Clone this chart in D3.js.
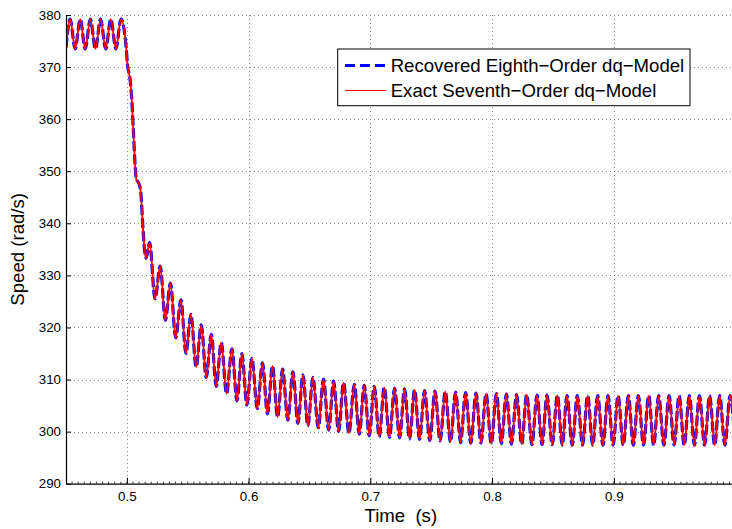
<!DOCTYPE html>
<html><head><meta charset="utf-8">
<script src="https://cdn.jsdelivr.net/npm/d3@7"></script>
<style>
body{margin:0;background:#fff}
svg{display:block}
text{font-family:"Liberation Sans",Arial,Helvetica,sans-serif;fill:#000}
</style>
</head><body>
<svg id="chart" width="732" height="529"></svg>
<script>
// ---- data (extrema of the speed waveform) ----
const timeS = [
0.4500,0.4534,0.4575,0.4617,0.4658,0.4700,0.4742,0.4784,0.4826,0.4868,0.4910,0.4952,0.4994,
0.5005,0.5027,0.5041,0.5054,0.5068,0.5078,0.5090,0.5104,0.5115,0.5131,0.5145,0.5158,
0.5187,0.5231,0.5274,0.5316,0.5358,0.5401,0.5444,0.5485,0.5526,0.5569,0.5611,0.5652,0.5693,0.5734,
0.5775,0.5819,0.5863,0.5904,0.5945,0.5986,0.6027,0.6071,0.6114,0.6155,0.6196,0.6238,0.6279,0.6322,
0.6364,0.6405,0.6446,0.6487,0.6528,0.6572,0.6615,0.6657,0.6698,0.6739,0.6780,0.6824,0.6868,0.6909,
0.6950,0.6991,0.7032,0.7073,0.7114,0.7157,0.7199,0.7240,0.7281,0.7322,0.7363,0.7404,0.7445,0.7488,
0.7531,0.7573,0.7615,0.7658,0.7700,0.7741,0.7782,0.7825,0.7868,0.7909,0.7950,0.7993,0.8035,0.8076,
0.8117,0.8159,0.8201,0.8243,0.8284,0.8327,0.8369,0.8410,0.8451,0.8494,0.8536,0.8576,0.8615,0.8658,
0.8700,0.8743,0.8785,0.8826,0.8867,0.8910,0.8952,0.8994,0.9035,0.9077,0.9119,0.9160,0.9201,0.9244,
0.9286,0.9327,0.9368,0.9411,0.9454,0.9495,0.9536,0.9578,0.9620,0.9662,0.9703,0.9745,0.9787,0.9828,
0.9869,0.9912,0.9955,0.9997
];
const speedExact = [
373.7,379.2,373.5,379.2,373.5,379.2,373.5,379.2,373.5,379.2,373.5,379.2,373.8,
370.5,367.5,363.5,357.5,351.0,348.4,348.0,347.3,345.8,339.5,335.0,333.3,
336.3,325.5,331.8,321.4,328.5,318.0,325.3,315.0,322.5,312.4,320.5,310.4,318.7,308.7,
317.1,307.3,315.9,305.9,315.0,305.1,314.1,304.4,313.2,303.4,312.6,302.8,312.0,302.2,
311.5,301.6,310.9,301.1,310.4,300.7,310.1,300.3,309.7,300.0,309.4,299.7,309.1,299.5,
308.9,299.2,308.7,299.0,308.5,298.9,308.3,298.8,308.2,298.6,308.0,298.5,307.9,298.3,
307.8,298.2,307.7,298.0,307.6,297.9,307.5,297.8,307.4,297.8,307.3,297.7,307.3,297.7,
307.2,297.6,307.1,297.6,307.1,297.5,307.0,297.5,307.0,297.5,307.0,297.4,306.9,297.4,
306.9,297.4,306.9,297.4,306.9,297.4,306.9,297.4,306.9,297.4,306.9,297.4,306.9,297.4,
306.9,297.4,306.9,297.4,306.9,297.4,306.9,297.4,306.9,297.4,306.9,297.4,306.9,297.4,
306.9,297.4,306.9,297.4
];
// recovered model is indistinguishable from the exact one at picture resolution
const speedRecovered = speedExact.slice();

const xTicks = [0.5, 0.6, 0.7, 0.8, 0.9];
const yTicks = [290, 300, 310, 320, 330, 340, 350, 360, 370, 380];
const seriesNames = ["Recovered Eighth\u2212Order dq\u2212Model", "Exact Seventh\u2212Order dq\u2212Model"];
const xLabel = "Time  (s)";
const yLabel = "Speed (rad/s)";

// ---- layout ----
const L = 66, T = 15, B = 483.7, R = 735.6;
const svg = d3.select("#chart");
const x = d3.scaleLinear().domain([0.45, 1.0]).range([L, R]);
const y = d3.scaleLinear().domain([290, 380]).range([B, T]);

svg.append("defs").append("clipPath").attr("id","plotclip")
  .append("rect").attr("x", L).attr("y", 0).attr("width", R - L + 5).attr("height", B);

// grid
const grid = svg.append("g").attr("stroke","#8a8a8a").attr("stroke-width",1).attr("stroke-dasharray","1,3");
grid.selectAll("line.v").data(xTicks).join("line").attr("class","v")
  .attr("x1", d => Math.round(x(d)) + 0.5).attr("x2", d => Math.round(x(d)) + 0.5)
  .attr("y1", T).attr("y2", B);
grid.selectAll("line.h").data(yTicks.filter(d => d > 290)).join("line").attr("class","h")
  .attr("y1", d => Math.round(y(d)) + 0.5).attr("y2", d => Math.round(y(d)) + 0.5)
  .attr("x1", L).attr("x2", 732);

// data lines
const pts = (vals) => timeS.map((t, i) => [t, vals[i]]);
const line = d3.line().x(d => x(d[0])).y(d => y(d[1])).curve(d3.curveMonotoneX);
const plot = svg.append("g").attr("clip-path","url(#plotclip)");
plot.append("path").datum(pts(speedRecovered)).attr("d", line)
  .attr("fill","none").attr("stroke","#0000ff").attr("stroke-width",3.2).attr("stroke-dasharray","10,3");
plot.append("path").datum(pts(speedExact)).attr("d", line)
  .attr("fill","none").attr("stroke","#ff0000").attr("stroke-width",1.9);

// axes
const xAxis = d3.axisBottom(x).tickValues(xTicks).tickFormat(d3.format(".1f"))
  .tickSizeInner(-6).tickSizeOuter(0).tickPadding(8);
const gx = svg.append("g").attr("transform",`translate(0,${B})`).call(xAxis);
const yAxis = d3.axisLeft(y).tickValues(yTicks).tickFormat(d3.format("d"))
  .tickSizeInner(-5).tickSizeOuter(0).tickPadding(5);
const gy = svg.append("g").attr("transform",`translate(${L},0)`).call(yAxis);
[gx, gy].forEach(g => {
  g.selectAll("text").attr("font-size","13.3px").attr("font-family",'"Liberation Sans",Arial,sans-serif').attr("fill","#000");
  g.selectAll("line,path").attr("stroke","#000");
  g.select(".domain").attr("stroke-width",1.2);
});
// minor ticks on x axis
const minor = d3.range(0.455, 1.0, 0.005);
svg.append("g").attr("stroke","#000").attr("stroke-width",0.8)
  .selectAll("line").data(minor).join("line")
  .attr("x1", d => x(d)).attr("x2", d => x(d)).attr("y1", B).attr("y2", B - 2);

// axis labels
svg.append("text").attr("x", (L + R) / 2).attr("y", 521.5).attr("text-anchor","middle")
  .attr("font-size","18.6px").style("white-space","pre").text(xLabel);
svg.append("text").attr("transform",`translate(24,${(T + B) / 2}) rotate(-90)`).attr("text-anchor","middle")
  .attr("font-size","18.6px").text(yLabel);

// legend
const lg = svg.append("g");
lg.append("rect").attr("x",337.7).attr("y",49).attr("width",352.3).attr("height",56.7)
  .attr("fill","#fff").attr("stroke","#000").attr("stroke-width",1);
const rows = [
  {name: seriesNames[0], color:"#0000ff", w:3, dash:"10,5", ly:65.5, ty:71.7},
  {name: seriesNames[1], color:"#ff0000", w:1.2, dash:null, ly:90.5, ty:97.3}
];
rows.forEach(r => {
  lg.append("line").attr("x1",345).attr("x2",386).attr("y1",r.ly).attr("y2",r.ly)
    .attr("stroke",r.color).attr("stroke-width",r.w).attr("stroke-dasharray",r.dash);
  lg.append("text").attr("x",390.7).attr("y",r.ty).attr("font-size","18.6px").text(r.name);
});
</script>
</body></html>
